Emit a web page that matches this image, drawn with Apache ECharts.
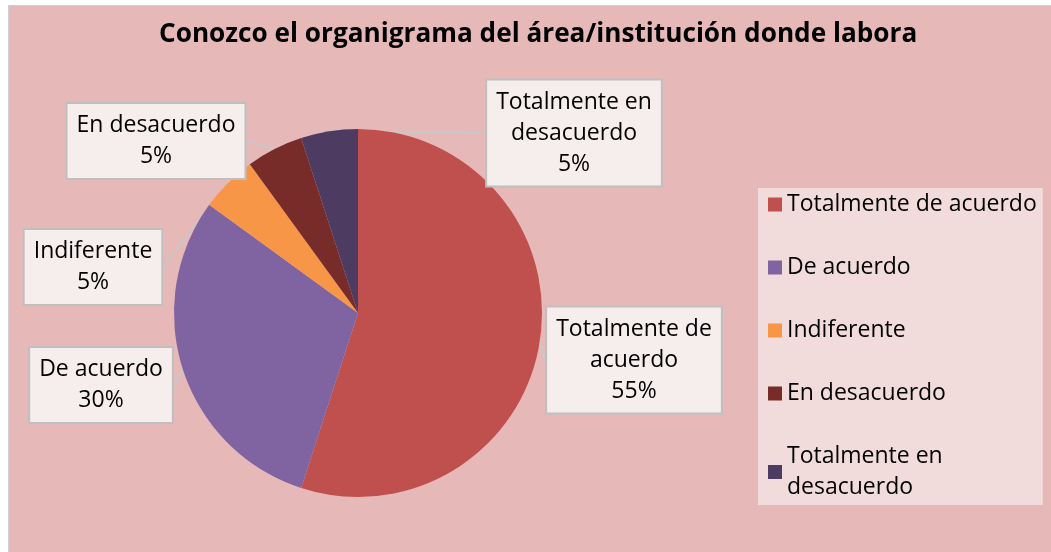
<!DOCTYPE html>
<html><head><meta charset="utf-8">
<script src="https://cdn.jsdelivr.net/npm/echarts@6/dist/echarts.min.js"></script>
<style>
html,body{margin:0;padding:0;background:#fff;width:1051px;height:552px;overflow:hidden}
#frame{position:absolute;left:8px;top:5px;width:1043px;height:547px;border-left:1px solid #D0D0D0;border-top:1px solid #D0D0D0;}
#chart{width:1043px;height:547px;}
</style></head><body><div id="frame"><div id="chart"></div></div>
<script>
const categories = ['Totalmente de acuerdo', 'De acuerdo', 'Indiferente', 'En desacuerdo', 'Totalmente en desacuerdo'];
const values = [55, 30, 5, 5, 5];
const labelNames = ['Totalmente de\nacuerdo', 'De acuerdo', 'Indiferente', 'En desacuerdo', 'Totalmente en\ndesacuerdo'];
const legendNames = ['Totalmente de acuerdo', 'De acuerdo', 'Indiferente', 'En desacuerdo', 'Totalmente en\ndesacuerdo'];
const colors = ['#C0504D', '#8064A2', '#F79646', '#772C2A', '#4D3B62'];
// label box centres (layout, chart pixel coords)
const labelCenters = [[625, 354], [92, 379], [84, 261], [147, 135], [565, 127]];

const FONT = '"Open Sans", "Noto Sans", sans-serif';
const chart = echarts.init(document.getElementById('chart'));
chart.setOption({
  animation: false,
  backgroundColor: '#E6B9B8',
  title: {
    text: 'Conozco el organigrama del área/institución donde labora',
    left: 150, top: 11, padding: [5, 0, 5, 0],
    textStyle: { fontFamily: FONT, fontSize: 26.2, fontWeight: 'bold', color: '#000' }
  },
  legend: {
    orient: 'vertical', left: 749, top: 182,
    itemWidth: 14, itemHeight: 14, itemGap: 32,
    padding: [1, 6, 2, 10],
    backgroundColor: '#F2DCDB',
    icon: 'rect',
    data: categories,
    formatter: name => legendNames[categories.indexOf(name)],
    textStyle: { fontFamily: FONT, fontSize: 23, lineHeight: 31, color: '#000' }
  },
  series: [{
    type: 'pie',
    center: [349, 307],
    radius: 184,
    startAngle: 90,
    clockwise: true,
    avoidLabelOverlap: false,
    data: categories.map((c, i) => ({ name: c, value: values[i], itemStyle: { color: colors[i] } })),
    itemStyle: { borderWidth: 0 },
    label: {
      show: true, position: 'outside',
      formatter: p => labelNames[p.dataIndex] + '\n' + Math.round(p.percent) + '%',
      fontFamily: FONT, fontSize: 23, lineHeight: 31, color: '#000',
      align: 'center',
      backgroundColor: '#F6EDED', borderColor: '#BFBFBF', borderWidth: 2,
      padding: [9, 9, 3, 9]
    },
    labelLine: { show: true, length: 8, length2: 0, lineStyle: { color: '#C8C8C8', width: 2 } },
    labelLayout: function (params) {
      const p = labelCenters[params.dataIndex];
      return { x: p[0], y: p[1], align: 'center', verticalAlign: 'middle' };
    },
    emphasis: { disabled: true }
  }]
});
</script></body></html>
